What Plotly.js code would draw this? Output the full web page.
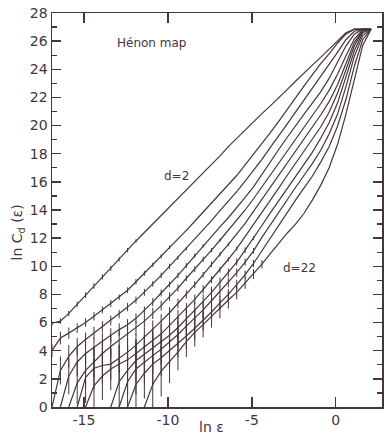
<!DOCTYPE html>
<html><head><meta charset="utf-8">
<script src="https://cdn.plot.ly/plotly-3.0.1.min.js"></script>
<style>html,body{margin:0;padding:0;background:#fff}#chart{width:385px;height:434px}</style>
</head><body><div id="chart"></div>
<script>
// ln(epsilon) grid of the measured points
const lnEps = [-16.9,-16.4,-15.9,-15.4,-14.9,-14.4,-13.9,-13.4,-12.9,-12.4,-11.9,-11.4,-10.9,-10.4,-9.9,-9.4,-8.9,-8.4,-7.9,-7.4,-6.9,-6.4,-5.9,-5.4,-4.9,-4.4,-3.9,-3.4,-2.9,-2.4,-1.9,-1.4,-0.9,-0.4,0.1,0.6,1.1,1.6,2.1];
const dimensions = [2,4,6,8,10,12,14,16,18,20,22];

// ln C_d(eps) for each embedding dimension (null = no pairs)
const lnC_d2 = [5.95,6.1,6.65,7.3,7.95,8.6,9.25,9.85,10.5,11.15,11.8,12.4,13.0,13.6,14.2,14.85,15.45,16.05,16.65,17.25,17.85,18.5,19.1,19.7,20.25,20.85,21.4,21.95,22.55,23.15,23.75,24.3,24.85,25.45,26.05,26.6,26.85,26.85,26.85];
const lnC_d4 = [4.0,4.9,5.25,5.6,6.0,6.45,6.9,7.35,7.8,8.3,8.9,9.5,10.1,10.7,11.35,11.95,12.55,13.2,13.85,14.5,15.15,15.75,16.45,17.2,17.95,18.75,19.5,20.3,21.15,22.0,22.8,23.6,24.4,25.1,25.85,26.5,26.85,26.85,26.85];
const lnC_d6 = [0.0,2.6,3.6,4.3,4.8,5.25,5.7,6.15,6.6,7.1,7.6,8.15,8.75,9.35,10.0,10.6,11.25,11.9,12.6,13.25,13.95,14.6,15.3,16.05,16.8,17.6,18.45,19.25,20.1,20.95,21.8,22.6,23.45,24.3,25.2,26.1,26.7,26.85,26.85];
const lnC_d8 = [null,0.0,2.2,3.2,3.8,4.25,4.7,5.1,5.5,5.85,6.3,6.85,7.45,8.1,8.7,9.35,10.05,10.75,11.45,12.1,12.8,13.45,14.15,14.9,15.65,16.55,17.45,18.3,19.15,20.0,20.8,21.6,22.4,23.35,24.5,25.65,26.5,26.85,26.85];
const lnC_d10 = [null,null,0.0,1.7,2.6,3.2,3.8,4.3,4.75,5.15,5.6,6.1,6.65,7.2,7.85,8.45,9.15,9.8,10.5,11.15,11.85,12.55,13.25,14.0,14.8,15.65,16.5,17.35,18.2,19.05,19.9,20.75,21.55,22.5,23.65,24.95,26.15,26.8,26.85];
const lnC_d12 = [null,null,null,0.0,2.1,2.75,2.95,3.05,3.45,3.9,4.4,4.95,5.55,6.1,6.7,7.35,8.0,8.7,9.4,10.15,10.85,11.55,12.3,13.05,13.9,14.75,15.6,16.45,17.35,18.2,19.05,19.9,20.75,21.7,22.9,24.4,25.9,26.75,26.85];
const lnC_d14 = [null,null,null,null,0.0,1.5,2.2,2.7,3.05,3.35,3.8,4.25,4.75,5.2,5.8,6.4,7.0,7.65,8.35,9.05,9.75,10.5,11.25,12.1,12.95,13.85,14.7,15.55,16.45,17.3,18.15,19.0,19.9,20.95,22.3,23.95,25.65,26.7,26.85];
const lnC_d16 = [null,null,null,null,null,null,null,0.0,1.8,2.6,3.3,3.75,4.2,4.6,5.1,5.65,6.25,6.85,7.5,8.15,8.85,9.55,10.3,11.15,12.0,12.9,13.8,14.65,15.5,16.4,17.25,18.1,19.1,20.2,21.6,23.4,25.3,26.6,26.85];
const lnC_d18 = [null,null,null,null,null,null,null,null,0.0,1.8,2.7,3.2,3.65,4.1,4.6,5.15,5.75,6.3,6.9,7.55,8.2,8.85,9.55,10.3,11.1,12.05,12.95,13.85,14.75,15.6,16.45,17.3,18.25,19.4,20.8,22.75,24.9,26.4,26.85];
const lnC_d20 = [null,null,null,null,null,null,null,null,null,0.0,1.6,2.4,3.05,3.5,4.0,4.55,5.05,5.6,6.15,6.75,7.4,8.0,8.7,9.4,10.2,11.1,12.05,12.95,13.8,14.7,15.55,16.4,17.4,18.5,19.95,21.85,24.2,26.1,26.85];
const lnC_d22 = [null,null,null,null,null,null,null,null,null,null,null,0.0,1.6,2.55,3.2,3.9,4.65,5.3,5.85,6.45,7.0,7.6,8.15,8.8,9.45,10.15,10.9,11.65,12.35,13.0,13.75,14.7,15.75,17.0,18.65,20.8,23.25,25.7,26.85];

// half-lengths of error bars, from each curve's first point onward (later points: bars hidden by the line)
const err_d2 = [0.15,0.2,0.2,0.2,0.2,0.2,0.18,0.18,0.15,0.15,0.12];
const err_d4 = [0.45,0.45,0.4,0.35,0.3,0.3,0.25,0.25,0.2,0.2,0.2,0.18,0.15,0.15,0.12];
const err_d6 = [0,1.0,0.8,0.6,0.5,0.45,0.4,0.35,0.3,0.3,0.25,0.25,0.2,0.2,0.18,0.15,0.12];
const err_d8 = [0,1.3,1.0,0.8,0.65,0.55,0.5,0.45,0.4,0.35,0.3,0.3,0.25,0.2,0.2,0.18,0.15,0.12];
const err_d10 = [0,1.5,1.3,1.1,0.9,0.8,0.7,0.6,0.5,0.45,0.4,0.35,0.3,0.25,0.2,0.2,0.18,0.15,0.12];
const err_d12 = [0,1.8,1.5,1.3,1.1,1.0,0.9,0.8,0.7,0.6,0.5,0.4,0.35,0.3,0.25,0.2,0.2,0.15,0.12];
const err_d14 = [0,2.0,1.7,1.5,1.3,1.1,1.0,0.9,0.8,0.7,0.6,0.5,0.4,0.35,0.3,0.25,0.2,0.15,0.12];
const err_d16 = [0,2.2,1.8,1.5,1.3,1.1,1.0,0.9,0.8,0.7,0.6,0.5,0.4,0.35,0.3,0.25,0.2,0.15];
const err_d18 = [0,2.2,1.8,1.5,1.3,1.1,1.0,0.9,0.8,0.7,0.6,0.5,0.4,0.35,0.3,0.25,0.2];
const err_d20 = [0,2.2,1.8,1.5,1.3,1.1,1.0,0.9,0.8,0.7,0.6,0.5,0.4,0.35,0.3,0.25];
const err_d22 = [0,2.2,1.8,1.5,1.3,1.1,1.0,0.9,0.8,0.7,0.6,0.5,0.4,0.35,0.3];

const xTickVals = [-15,-10,-5,0];
const xTickText = ['-15','-10','-5','0'];
const yTickVals = [0,2,4,6,8,10,12,14,16,18,20,22,24,26,28];
const yTickText = ['0','2','4','6','8','10','12','14','16','18','20','22','24','26','28'];

const curves = [lnC_d2,lnC_d4,lnC_d6,lnC_d8,lnC_d10,lnC_d12,lnC_d14,lnC_d16,lnC_d18,lnC_d20,lnC_d22];
const errs = [err_d2,err_d4,err_d6,err_d8,err_d10,err_d12,err_d14,err_d16,err_d18,err_d20,err_d22];

const ink = '#45353c';
const fontFam = 'DejaVu Sans, Verdana, sans-serif';

const traces = curves.map((ys, k) => {
  const x = [], y = [];
  ys.forEach((v, i) => { if (v !== null) { x.push(lnEps[i]); y.push(v); } });
  return {
    type: 'scatter', mode: 'lines', x: x, y: y,
    name: 'd=' + dimensions[k],
    line: {color: ink, width: 1.2},
    error_y: {type: 'data', array: errs[k], symmetric: true, color: ink, thickness: 1, width: 0},
    showlegend: false, hoverinfo: 'skip'
  };
});

const layout = {
  width: 385, height: 434,
  margin: {l: 52, r: 3, t: 13, b: 27},
  paper_bgcolor: '#ffffff', plot_bgcolor: '#ffffff',
  font: {family: fontFam, color: ink, size: 14},
  showlegend: false,
  xaxis: {
    range: [-16.9, 2.75], tickmode: 'array', tickvals: xTickVals, ticktext: xTickText,
    ticks: 'inside', ticklen: 10, tickwidth: 1.3, tickcolor: ink,
    showline: true, linecolor: ink, linewidth: 1.5, mirror: 'ticks',
    showgrid: false, zeroline: false, tickfont: {size: 14, color: ink}
  },
  yaxis: {
    range: [0, 28], tickmode: 'array', tickvals: yTickVals, ticktext: yTickText,
    ticks: 'inside', ticklen: 9, tickwidth: 1.3, tickcolor: ink,
    showline: true, linecolor: ink, linewidth: 1.5, mirror: 'ticks',
    showgrid: false, zeroline: false, tickfont: {size: 14, color: ink},
    minor: {dtick: 1, tick0: 0, ticks: 'inside', ticklen: 5, tickwidth: 1.2, tickcolor: ink, showgrid: false}
  },
  annotations: [
    {xref: 'x', yref: 'y', x: -10.95, y: 25.87, text: 'Hénon map', showarrow: false, font: {size: 12, color: ink}},
    {xref: 'x', yref: 'y', x: -9.46, y: 16.42, text: 'd=2', showarrow: false, font: {size: 12, color: ink}},
    {xref: 'x', yref: 'y', x: -2.14, y: 9.88, text: 'd=22', showarrow: false, font: {size: 12, color: ink}},
    {xref: 'paper', yref: 'paper', x: 0.482, y: -0.051, yanchor: 'middle', text: 'ln ε', showarrow: false, font: {size: 14, color: ink}},
    {xref: 'paper', yref: 'paper', x: -0.135, y: 0.444, textangle: -90, text: 'ln C<sub>d</sub> (ε)', showarrow: false, font: {size: 14, color: ink}}
  ]
};

Plotly.newPlot('chart', traces, layout, {staticPlot: true, displayModeBar: false});
</script>
</body></html>
